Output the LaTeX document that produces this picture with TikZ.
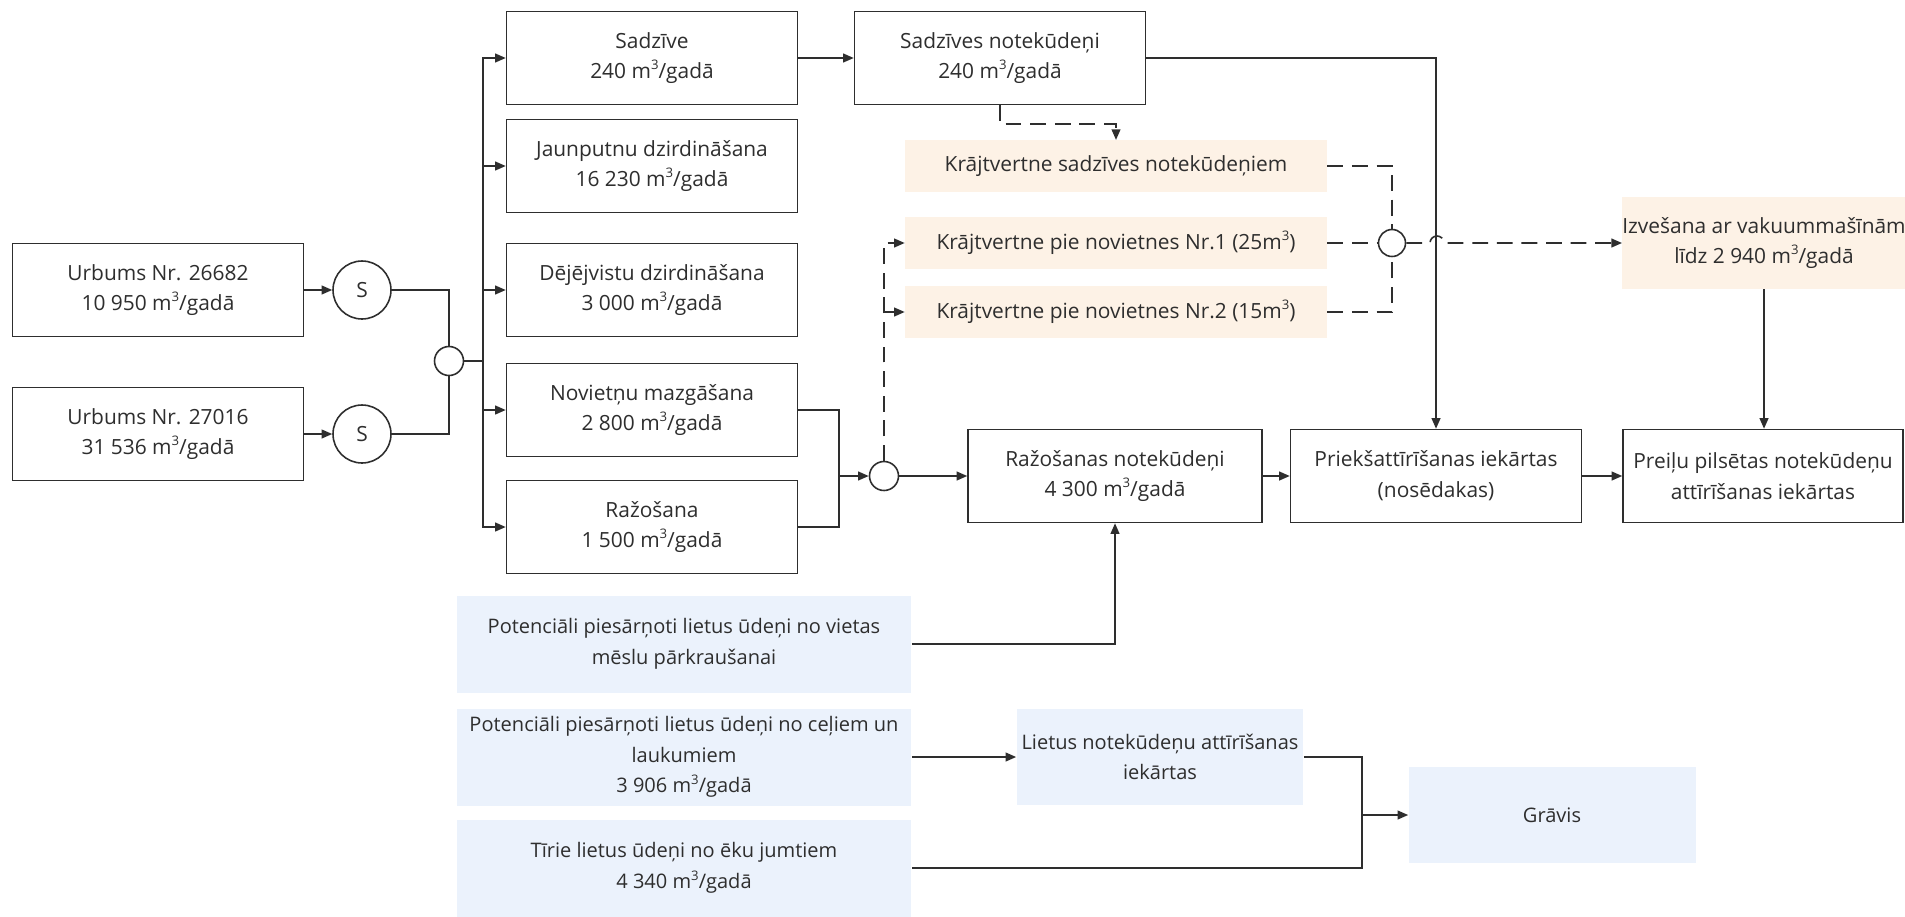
\documentclass[tikz,border=0pt]{standalone}
\usepackage{fontspec}
\setmainfont{Open Sans}
\usepackage{xcolor}
\usetikzlibrary{arrows.meta, positioning}
\definecolor{ink}{HTML}{2E2E2E}
\definecolor{peach}{HTML}{FDF2E6}
\definecolor{sky}{HTML}{EBF2FC}
\newcommand{\cub}{\raisebox{0.8ex}{\fontsize{7.5}{7.5}\selectfont 3}}
\newcommand{\mgada}{m\cub/gadā}

\begin{document}
\begin{tikzpicture}[x=0.02cm, y=-0.02cm, font=\fontsize{11.9}{17.5}\selectfont, text=ink,
    box/.style={draw=ink, line width=0.9pt, fill=white, align=center, inner sep=0pt, minimum width=5.82cm, minimum height=1.86cm},
    tank/.style={fill=peach, align=center, inner sep=0pt, minimum width=8.44cm, minimum height=1.03cm},
    rain/.style={fill=sky, align=center, inner sep=0pt, minimum width=9.1cm, minimum height=1.94cm, font=\fontsize{11.4}{17.5}\selectfont},
    pump/.style={draw=ink, circle, line width=0.9pt, fill=white, inner sep=0pt, minimum size=1.16cm},
    joint/.style={draw=ink, circle, line width=0.9pt, fill=white, inner sep=0pt, minimum size=0.58cm},
    pipe/.style={draw=ink, line width=0.9pt},
    flow/.style={pipe, -{Triangle[length=6pt, width=5pt]}},
    dpipe/.style={pipe, dash pattern=on 9pt off 5pt},
    dflow/.style={dpipe, -{Triangle[length=6pt, width=5pt]}}]
    \useasboundingbox (0,0) rectangle (1905,916);

    % Nodes
    \node[box] (u1) at (158,290) {Urbums Nr. 26682\\10 950 \mgada};
    \node[box] (u2) at (158,434) {Urbums Nr. 27016\\31 536 \mgada};
    \node[pump] (s1) at (362,290) {S};
    \node[pump] (s2) at (362,434) {S};
    \node[joint] (j1) at (449,361) {};
    \coordinate (bus) at (483,361);

    \node[box] (sadz) at (652,58) {Sadzīve\\240 \mgada};
    \node[box] (jaun) at (652,166) {Jaunputnu dzirdināšana\\16 230 \mgada};
    \node[box] (deje) at (652,290) {Dējējvistu dzirdināšana\\3 000 \mgada};
    \node[box] (novi) at (652,410) {Novietņu mazgāšana\\2 800 \mgada};
    \node[box] (razo) at (652,527) {Ražošana\\1 500 \mgada};

    \node[box] (snot) at (1000,58) {Sadzīves notekūdeņi\\240 \mgada};
    \node[tank] (tank0) at (1116,166) {Krājtvertne sadzīves notekūdeņiem};
    \node[tank] (tank1) at (1116,243) {Krājtvertne pie novietnes Nr.1 (25m\cub)};
    \node[tank] (tank2) at (1116,312) {Krājtvertne pie novietnes Nr.2 (15m\cub)};
    \node[joint, minimum size=0.54cm] (j3) at (1392,243) {};
    \node[tank, minimum width=5.64cm, minimum height=1.84cm] (izv) at (1764,243) {Izvešana ar vakuummašīnām\\līdz 2 940 \mgada};

    \coordinate (mix) at (839,476);
    \node[joint] (j2) at (884,476) {};
    \node[box, minimum width=5.88cm] (rnot) at (1115,476) {Ražošanas notekūdeņi\\4 300 \mgada};
    \node[box] (prie) at (1436,476) {Priekšattīrīšanas iekārtas\\(nosēdakas)};
    \node[box, minimum width=5.6cm] (prei) at (1763,476) {Preiļu pilsētas notekūdeņu\\attīrīšanas iekārtas};

    \node[rain] (rain1) at (684,644) {Potenciāli piesārņoti lietus ūdeņi no vietas\\mēslu pārkraušanai};
    \node[rain] (rain2) at (684,757) {Potenciāli piesārņoti lietus ūdeņi no ceļiem un\\laukumiem\\3 906 \mgada};
    \node[rain] (rain3) at (684,868) {Tīrie lietus ūdeņi no ēku jumtiem\\4 340 \mgada};
    \node[rain, minimum width=5.74cm, minimum height=1.92cm] (liet) at (1160,757) {Lietus notekūdeņu attīrīšanas\\iekārtas};
    \coordinate (ditch) at (1362,815);
    \node[rain, minimum width=5.74cm, minimum height=1.92cm] (grav) at (1552,815) {Grāvis};

    % Edges
    \draw[flow] (u1) -- (s1);
    \draw[flow] (u2) -- (s2);
    \draw[pipe] (s1.east) -| (j1.north);
    \draw[pipe] (s2.east) -| (j1.south);
    \draw[pipe] (j1.east) -- (bus);
    \foreach \n in {sadz,jaun,deje,novi,razo}
        \draw[flow] (bus) |- (\n.west);

    \draw[flow] (sadz) -- (snot);
    \draw[dflow] (snot.south) -- ++(0,19) -| (tank0.north);
    \draw[flow] (snot.east) -| (prie.north);

    \draw[pipe] (novi.east) -| (mix) |- (razo.east);
    \draw[flow] (mix) -- (j2);
    \draw[flow] (j2) -- (rnot);
    \draw[dflow] (j2.north) |- (tank1.west);
    \draw[dflow] (j2.north) |- (tank2.west);

    \draw[dpipe] (tank0.east) -| (j3.north);
    \draw[dpipe] (tank1.east) -- (j3.west);
    \draw[dpipe] (tank2.east) -| (j3.south);
    \draw[dflow] (j3.east) -- (1430,243) arc[start angle=180, end angle=0, radius=0.14cm] -- (izv.west);

    \draw[flow] (izv.south) -- (izv.south |- prei.north);
    \draw[flow] (rnot) -- (prie);
    \draw[flow] (prie) -- (prei);

    \draw[flow] (rain1.east) -| (rnot.south);
    \draw[flow] (rain2) -- (liet);
    \draw[pipe] (liet.east) -| (ditch) |- (rain3.east);
    \draw[flow] (ditch) -- (grav);
\end{tikzpicture}
\end{document}
